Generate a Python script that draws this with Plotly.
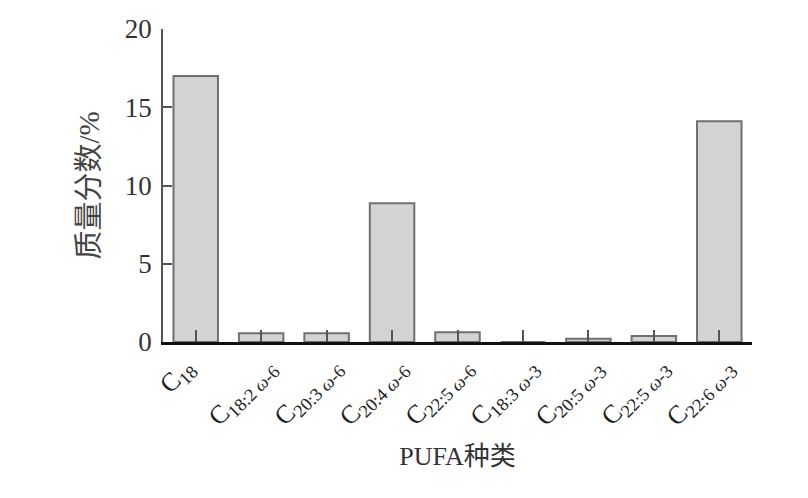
import plotly.graph_objects as go

categories = ["C18", "C18:2 ω-6", "C20:3 ω-6", "C20:4 ω-6", "C22:5 ω-6",
              "C18:3 ω-3", "C20:5 ω-3", "C22:5 ω-3", "C22:6 ω-3"]
values = [17.0, 0.56, 0.56, 8.87, 0.63, 0.0, 0.2, 0.38, 14.1]
tick_labels = [
    "C<sub>18</sub>",
    "C<sub>18:2 <i>ω</i>-6</sub>",
    "C<sub>20:3 <i>ω</i>-6</sub>",
    "C<sub>20:4 <i>ω</i>-6</sub>",
    "C<sub>22:5 <i>ω</i>-6</sub>",
    "C<sub>18:3 <i>ω</i>-3</sub>",
    "C<sub>20:5 <i>ω</i>-3</sub>",
    "C<sub>22:5 <i>ω</i>-3</sub>",
    "C<sub>22:6 <i>ω</i>-3</sub>",
]
y_ticks = [0, 5, 10, 15, 20]

FONT = "Liberation Serif, Noto Sans CJK SC, serif"

x = list(range(len(categories)))
fig = go.Figure(go.Bar(
    x=x, y=values, width=0.68,
    marker=dict(color="#d3d3d3", line=dict(color="#707070", width=2)),
))

# rotated category labels (drawn as annotations on the x scale)
for xi, lab in zip(x, tick_labels):
    fig.add_annotation(
        x=xi, y=0, xref="x", yref="y", text=lab, showarrow=False,
        textangle=-45, xanchor="center", yanchor="top",
        xshift=-18, yshift=-8,
        font=dict(size=26, family=FONT, color="#222"),
    )

fig.update_layout(
    width=800, height=490,
    margin=dict(l=155, r=56, t=21, b=155.5, autoexpand=False),
    paper_bgcolor="white", plot_bgcolor="white",
    showlegend=False,
    font=dict(family=FONT, color="#222"),
    xaxis=dict(
        range=[-0.5, 8.5], tickmode="array", tickvals=x, showticklabels=False,
        ticks="inside", ticklen=12, tickwidth=2, tickcolor="#555",
        showline=True, linecolor="#111", linewidth=2.5, showgrid=False, zeroline=False,
        automargin=False,
        title=dict(text="PUFA种类", font=dict(size=26, family=FONT, color="#333"), standoff=104),
    ),
    yaxis=dict(
        range=[0, 20], tickmode="array", tickvals=y_ticks,
        ticks="inside", ticklen=9, tickwidth=1.5, tickcolor="#555",
        showline=True, linecolor="#555", linewidth=1.5, showgrid=False, zeroline=False,
        tickfont=dict(size=27, family=FONT, color="#333"),
        ticklabelstandoff=4,
        automargin=False,
        title=dict(text="质量分数/%", font=dict(size=29, family=FONT, color="#444"), standoff=17),
    ),
)

fig.write_html("out.html")
